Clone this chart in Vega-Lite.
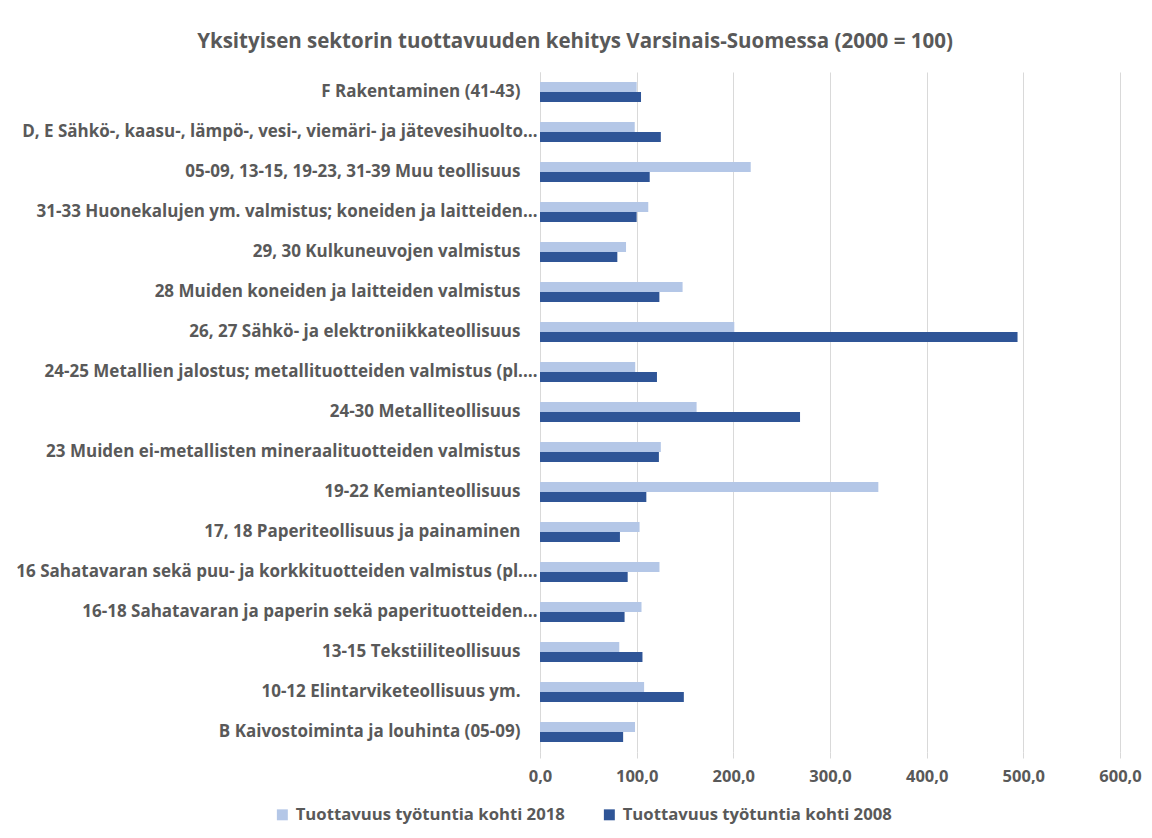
{
  "$schema": "https://vega.github.io/schema/vega-lite/v6.json",
  "autosize": {"type": "none"},
  "padding": {"left": 540, "top": 72, "right": 32, "bottom": 86},
  "width": 580,
  "height": 680,
  "background": "white",
  "title": {
    "text": "Yksityisen sektorin tuottavuuden kehitys Varsinais-Suomessa (2000 = 100)",
    "anchor": "middle",
    "frame": "group",
    "dx": -255,
    "offset": 20,
    "font": "Open Sans",
    "fontSize": 20.5,
    "fontWeight": "bold",
    "color": "#595959"
  },
  "data": {
    "values": [
      {"category": "F Rakentaminen (41-43)", "series": "Tuottavuus työtuntia kohti 2018", "value": 100},
      {"category": "F Rakentaminen (41-43)", "series": "Tuottavuus työtuntia kohti 2008", "value": 104.5},
      {"category": "D, E Sähkö-, kaasu-, lämpö-, vesi-, viemäri- ja jätevesihuolto…", "series": "Tuottavuus työtuntia kohti 2018", "value": 98},
      {"category": "D, E Sähkö-, kaasu-, lämpö-, vesi-, viemäri- ja jätevesihuolto…", "series": "Tuottavuus työtuntia kohti 2008", "value": 125},
      {"category": "05-09, 13-15, 19-23, 31-39 Muu teollisuus", "series": "Tuottavuus työtuntia kohti 2018", "value": 218},
      {"category": "05-09, 13-15, 19-23, 31-39 Muu teollisuus", "series": "Tuottavuus työtuntia kohti 2008", "value": 113.5},
      {"category": "31-33 Huonekalujen ym. valmistus; koneiden ja laitteiden…", "series": "Tuottavuus työtuntia kohti 2018", "value": 112},
      {"category": "31-33 Huonekalujen ym. valmistus; koneiden ja laitteiden…", "series": "Tuottavuus työtuntia kohti 2008", "value": 100},
      {"category": "29, 30 Kulkuneuvojen valmistus", "series": "Tuottavuus työtuntia kohti 2018", "value": 89},
      {"category": "29, 30 Kulkuneuvojen valmistus", "series": "Tuottavuus työtuntia kohti 2008", "value": 80},
      {"category": "28 Muiden koneiden ja laitteiden valmistus", "series": "Tuottavuus työtuntia kohti 2018", "value": 147.5},
      {"category": "28 Muiden koneiden ja laitteiden valmistus", "series": "Tuottavuus työtuntia kohti 2008", "value": 123.5},
      {"category": "26, 27 Sähkö- ja elektroniikkateollisuus", "series": "Tuottavuus työtuntia kohti 2018", "value": 201},
      {"category": "26, 27 Sähkö- ja elektroniikkateollisuus", "series": "Tuottavuus työtuntia kohti 2008", "value": 494},
      {"category": "24-25 Metallien jalostus; metallituotteiden valmistus (pl.…", "series": "Tuottavuus työtuntia kohti 2018", "value": 98.5},
      {"category": "24-25 Metallien jalostus; metallituotteiden valmistus (pl.…", "series": "Tuottavuus työtuntia kohti 2008", "value": 121},
      {"category": "24-30 Metalliteollisuus", "series": "Tuottavuus työtuntia kohti 2018", "value": 162},
      {"category": "24-30 Metalliteollisuus", "series": "Tuottavuus työtuntia kohti 2008", "value": 269},
      {"category": "23 Muiden ei-metallisten mineraalituotteiden valmistus", "series": "Tuottavuus työtuntia kohti 2018", "value": 125},
      {"category": "23 Muiden ei-metallisten mineraalituotteiden valmistus", "series": "Tuottavuus työtuntia kohti 2008", "value": 123},
      {"category": "19-22 Kemianteollisuus", "series": "Tuottavuus työtuntia kohti 2018", "value": 350},
      {"category": "19-22 Kemianteollisuus", "series": "Tuottavuus työtuntia kohti 2008", "value": 110},
      {"category": "17, 18 Paperiteollisuus ja painaminen", "series": "Tuottavuus työtuntia kohti 2018", "value": 103},
      {"category": "17, 18 Paperiteollisuus ja painaminen", "series": "Tuottavuus työtuntia kohti 2008", "value": 82.7},
      {"category": "16 Sahatavaran sekä puu- ja korkkituotteiden valmistus (pl.…", "series": "Tuottavuus työtuntia kohti 2018", "value": 123.6},
      {"category": "16 Sahatavaran sekä puu- ja korkkituotteiden valmistus (pl.…", "series": "Tuottavuus työtuntia kohti 2008", "value": 90.7},
      {"category": "16-18 Sahatavaran ja paperin sekä paperituotteiden…", "series": "Tuottavuus työtuntia kohti 2018", "value": 105},
      {"category": "16-18 Sahatavaran ja paperin sekä paperituotteiden…", "series": "Tuottavuus työtuntia kohti 2008", "value": 87.5},
      {"category": "13-15 Tekstiiliteollisuus", "series": "Tuottavuus työtuntia kohti 2018", "value": 82},
      {"category": "13-15 Tekstiiliteollisuus", "series": "Tuottavuus työtuntia kohti 2008", "value": 106},
      {"category": "10-12 Elintarviketeollisuus ym.", "series": "Tuottavuus työtuntia kohti 2018", "value": 107.7},
      {"category": "10-12 Elintarviketeollisuus ym.", "series": "Tuottavuus työtuntia kohti 2008", "value": 148.8},
      {"category": "B Kaivostoiminta ja louhinta (05-09)", "series": "Tuottavuus työtuntia kohti 2018", "value": 98.3},
      {"category": "B Kaivostoiminta ja louhinta (05-09)", "series": "Tuottavuus työtuntia kohti 2008", "value": 86}
    ]
  },
  "mark": {"type": "bar"},
  "encoding": {
    "y": {
      "field": "category",
      "type": "nominal",
      "sort": null,
      "title": null,
      "scale": {"paddingInner": 0.5, "paddingOuter": 0.25},
      "axis": {
        "labelFont": "Open Sans",
        "labelFontSize": 17,
        "labelFontWeight": "bold",
        "labelColor": "#595959",
        "labelLimit": 540,
        "labelPadding": {"condition": {"test": "slice(datum.label, -1) == '…'", "value": 3}, "value": 20},
        "ticks": false,
        "domainColor": "#D9D9D9",
        "domainWidth": 1
      }
    },
    "yOffset": {
      "field": "series",
      "type": "nominal",
      "sort": ["Tuottavuus työtuntia kohti 2018", "Tuottavuus työtuntia kohti 2008"]
    },
    "x": {
      "field": "value",
      "type": "quantitative",
      "title": null,
      "scale": {"domain": [0, 600], "nice": false},
      "axis": {
        "values": [0, 100, 200, 300, 400, 500, 600],
        "labelExpr": "replace(format(datum.value, '.1f'), '.', ',')",
        "labelFont": "Open Sans",
        "labelFontSize": 16.5,
        "labelFontWeight": "bold",
        "labelColor": "#595959",
        "labelPadding": 10,
        "labelFlush": false,
        "labelOverlap": false,
        "grid": true,
        "gridColor": "#D9D9D9",
        "gridWidth": 1,
        "domain": false,
        "ticks": true,
        "tickColor": "#D9D9D9",
        "tickSize": 6
      }
    },
    "color": {
      "field": "series",
      "type": "nominal",
      "scale": {
        "domain": ["Tuottavuus työtuntia kohti 2018", "Tuottavuus työtuntia kohti 2008"],
        "range": ["#B4C7E7", "#2F5597"]
      },
      "legend": {
        "title": null,
        "orient": "none",
        "direction": "horizontal",
        "legendX": -266,
        "legendY": 734,
        "symbolType": "square",
        "symbolSize": 120,
        "symbolStrokeWidth": 0,
        "labelFont": "Open Sans",
        "labelFontSize": 16.7,
        "labelFontWeight": "bold",
        "labelColor": "#595959",
        "labelLimit": 400,
        "labelOffset": 5,
        "columnPadding": 36
      }
    }
  },
  "config": {
    "view": {"stroke": null}
  }
}
